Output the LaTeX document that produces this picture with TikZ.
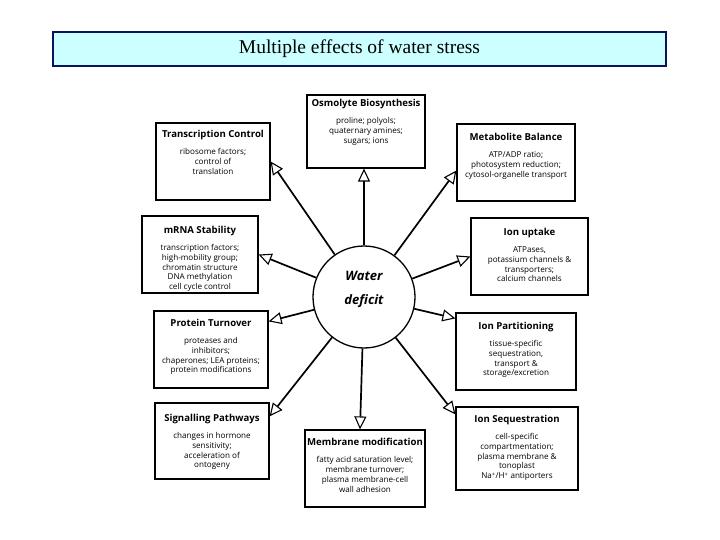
\documentclass[tikz,border=0pt]{standalone}
\usepackage{fontspec}
\setmainfont{Liberation Serif}
\setsansfont{Open Sans}
\usetikzlibrary{arrows.meta}
\definecolor{titlefill}{RGB}{204,255,255}
\definecolor{titleedge}{RGB}{10,20,90}
\begin{document}
\begin{tikzpicture}[x=1pt,y=-1pt,
  box/.style={draw=black, line width=1.2pt, inner sep=0pt, fill=white},
  txt/.style={anchor=north, align=center, inner sep=0pt,
    font=\sffamily\fontsize{8.1}{9.9}\selectfont},
  arr/.style={line width=1.7pt, -{Triangle[open, length=13pt, width=12pt, line width=1.1pt]}}]
\useasboundingbox (0,0) rectangle (720,540);
% title
\node[draw=titleedge, fill=titlefill, line width=2pt, minimum width=613pt, minimum height=34pt, inner sep=0pt,
  font=\rmfamily\fontsize{19.5}{21}\selectfont] (title) at (359.5,49) {Multiple effects of water stress};
% centre
\node[circle, draw=black, line width=1.3pt, minimum size=102pt, inner sep=0pt] (c) at (364,297) {};
\node[align=center, inner sep=0pt, font=\sffamily\bfseries\itshape\fontsize{13}{24}\selectfont] (wd) at (364,289) {Water\\deficit};
% boxes
\node[box, minimum width=118pt, minimum height=73pt] (osm) at (366,131.5) {};
\node[box, minimum width=114pt, minimum height=77pt] (tc) at (213,161.5) {};
\node[box, minimum width=118pt, minimum height=77pt] (met) at (516,162.5) {};
\node[box, minimum width=116pt, minimum height=77pt] (mrna) at (200,254.5) {};
\node[box, minimum width=117pt, minimum height=77pt] (iu) at (529.5,256.5) {};
\node[box, minimum width=114pt, minimum height=77pt] (pt) at (211,349.5) {};
\node[box, minimum width=114pt, minimum height=76pt] (sp) at (212,441) {};
\node[box, minimum width=120pt, minimum height=77pt] (mm) at (365,468.5) {};
\node[box, minimum width=120pt, minimum height=77pt] (ip) at (516,351.5) {};
\node[box, minimum width=122pt, minimum height=83pt] (is) at (517,448.5) {};
% texts
\newcommand{\hdf}[1]{{\bfseries\fontsize{9.6}{10}\selectfont #1}\\[6.5pt]}
\node[txt] (osmT) at ([yshift=-5pt]osm.north) {\hdf{Osmolyte Biosynthesis}proline; polyols;\\quaternary amines;\\sugars; ions};
\node[txt] (tcT) at ([yshift=-8pt]tc.north) {\hdf{Transcription Control}ribosome factors;\\control of\\translation};
\node[txt] (metT) at ([yshift=-10pt]met.north) {\hdf{Metabolite Balance}ATP/ADP ratio;\\photosystem reduction;\\cytosol-organelle transport};
\node[txt] (mrnaT) at ([yshift=-11pt]mrna.north) {\hdf{mRNA Stability}transcription factors;\\high-mobility group;\\chromatin structure\\DNA methylation\\cell cycle control};
\node[txt] (iuT) at ([yshift=-11pt]iu.north) {\hdf{Ion uptake}ATPases,\\potassium channels \&\\transporters;\\calcium channels};
\node[txt] (ptT) at ([yshift=-9pt]pt.north) {\hdf{Protein Turnover}proteases and\\inhibitors;\\chaperones; LEA proteins;\\protein modifications};
\node[txt] (spT) at ([yshift=-12pt]sp.north) {\hdf{Signalling Pathways}changes in hormone\\sensitivity;\\acceleration of\\ontogeny};
\node[txt] (mmT) at ([yshift=-9pt]mm.north) {\hdf{Membrane modification}fatty acid saturation level;\\membrane turnover;\\plasma membrane-cell\\wall adhesion};
\node[txt] (ipT) at ([yshift=-10pt]ip.north) {\hdf{Ion Partitioning}tissue-specific\\sequestration,\\transport \&\\storage/excretion};
\node[txt] (isT) at ([yshift=-9pt]is.north) {\hdf{Ion Sequestration}cell-specific\\compartmentation;\\plasma membrane \&\\tonoplast\\Na\textsuperscript{+}/H\textsuperscript{+} antiporters};
% arrows
\draw[arr] (c) -- ([xshift=-2pt]osm.south);
\draw[arr] (c) -- (tc.east);
\draw[arr] (c) -- ([yshift=-8pt]met.west);
\draw[arr] (c) -- (mrna.east);
\draw[arr] (c) -- (iu.west);
\draw[arr] (c) -- ([yshift=-11pt]pt.north east);
\draw[arr] (c) -- ([yshift=-14pt]sp.north east);
\draw[arr] (c) -- ([xshift=-5pt]mm.north);
\draw[arr] (c) -- ([yshift=-6pt]ip.north west);
\draw[arr] (c) -- ([yshift=-8pt]is.north west);
\end{tikzpicture}
\end{document}
